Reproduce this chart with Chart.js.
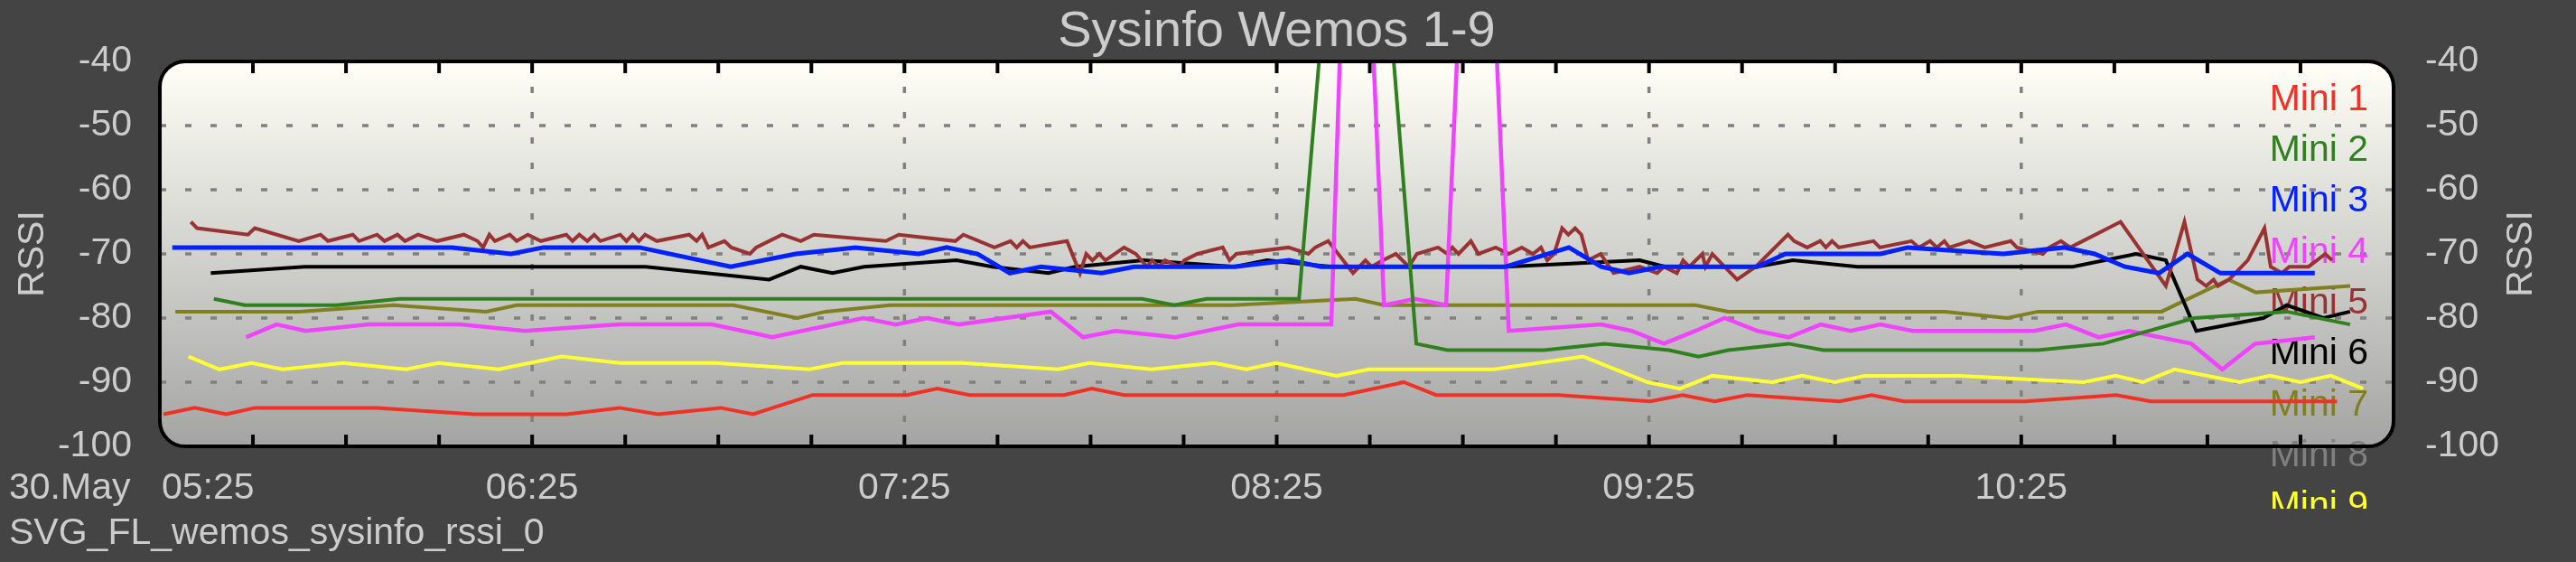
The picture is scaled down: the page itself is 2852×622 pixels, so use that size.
<!DOCTYPE html>
<html>
<head>
<meta charset="utf-8">
<script src="https://cdn.jsdelivr.net/npm/chart.js@4/dist/chart.umd.min.js"></script>
<style>
    html, body { margin: 0; padding: 0; background: #444444; }
    canvas { display: block; }
</style>
</head>
<body>
<canvas id="rssiChart" width="2852" height="622"></canvas>
<script>
// x = minutes after 30.May 05:25, y = RSSI in dBm (31 = not connected)
const mini1 = [[0.6,-95],[5.6,-94],[10.7,-95],[15.3,-94],[35,-94],[50.7,-95],[65.6,-95],[74.1,-94],[80.3,-95],[90.4,-94],[95.6,-95],[105.2,-92],[120.4,-92],[125.3,-91],[130.5,-92],[145.7,-92],[150.2,-91],[155.4,-92],[190.8,-92],[200.5,-90],[205.7,-92],[225.4,-92],[240.2,-93],[245.4,-92],[250.6,-93],[255.8,-92],[270.7,-93],[275.9,-92],[281.1,-93],[300.6,-93],[315.3,-92],[320.9,-93],[350.9,-93]];
const mini2 = [[8.7,-77],[13.7,-78],[28.5,-78],[38.6,-77],[158.3,-77],[163.5,-78],[168.7,-77],[183.6,-77],[193,31],[202.5,-84],[207.5,-85],[223.1,-85],[232.8,-84],[243.2,-85],[248,-86],[252.8,-85],[262.5,-84],[268.1,-85],[302.7,-85],[313.2,-84],[327.9,-80],[342.8,-79],[353,-81]];
const mini3 = [[2,-69],[47.1,-69],[56.6,-70],[61.8,-69],[77.3,-69],[92,-72],[102.5,-70],[112.1,-69],[122.3,-70],[126.8,-69],[131.8,-70],[137,-73],[142,-72],[151.8,-73],[157,-72],[173.2,-72],[182,-71],[187.2,-72],[216.9,-72],[227.1,-69],[232.3,-72],[236.8,-73],[241.8,-72],[257.4,-72],[262,-70],[277.3,-70],[281.7,-69],[297.1,-70],[306.9,-69],[311.8,-70],[316.7,-72],[322.2,-73],[326.8,-70],[332.1,-73],[347.3,-73]];
const mini4 = [[13.9,-83],[18.8,-81],[23.5,-82],[33.7,-81],[48.4,-81],[58.8,-82],[74,-81],[89,-81],[98.7,-83],[113.4,-80],[118.6,-81],[123.7,-80],[128.8,-81],[143.6,-79],[148.8,-83],[154,-82],[163.7,-83],[173.8,-81],[188.8,-81],[192.5,31],[197.3,-78],[202.3,-77],[207.3,-78],[212.3,31],[217.4,-82],[232.3,-81],[237.2,-82],[242.4,-84],[247.5,-82],[252.2,-80],[257.4,-82],[262.5,-83],[267.7,-81],[272.5,-82],[277.3,-81],[282.5,-82],[302.1,-82],[307.2,-81],[312.5,-83],[317.4,-82],[327.4,-84],[332.4,-88],[337.7,-84],[347.3,-83]];
const mini5 = [[5,-65],[6,-66],[14.2,-67],[15.3,-66],[22.4,-68],[25.9,-67],[27.1,-68],[31.1,-67],[32.1,-68],[35,-67],[36.2,-68],[38.3,-67],[39.5,-68],[41.6,-67],[44.7,-68],[49,-67],[51.2,-68],[52.1,-69],[53.1,-67],[54,-68],[56.4,-67],[57.5,-68],[59.3,-67],[61.4,-68],[65.5,-67],[66.5,-68],[67.6,-67],[68.9,-68],[70,-67],[71,-68],[74.2,-67],[75.2,-68],[76.2,-67],[77.2,-68],[78.2,-67],[80.1,-68],[85.3,-67],[86.5,-68],[87.4,-67],[88.4,-69],[91,-68],[92.1,-69],[95.1,-70],[96.1,-69],[100.3,-67],[103.3,-68],[105.4,-67],[117,-68],[119.1,-67],[128.2,-68],[129.5,-67],[134.5,-69],[137.1,-68],[138.1,-69],[139.1,-68],[140.2,-69],[146.2,-68],[148.3,-73],[149.3,-70],[150.3,-71],[151.4,-70],[152.4,-71],[155.4,-69],[157.3,-70],[159.1,-72],[159.9,-71],[161,-72],[162,-71],[164.4,-72],[165.1,-71],[167.2,-70],[171.3,-69],[172.4,-71],[173.5,-70],[181.9,-69],[185.1,-70],[186.2,-69],[188.3,-68],[192.3,-73],[194.3,-71],[195.3,-72],[197.1,-71],[199.2,-70],[201.3,-72],[202.6,-70],[206,-69],[207.5,-70],[208.3,-69],[209.3,-70],[211.3,-68],[212.5,-70],[215.3,-69],[217.4,-70],[219.5,-69],[221.3,-70],[222.6,-69],[223.6,-71],[224.7,-70],[226,-66],[227,-67],[228.1,-66],[229.1,-67],[230.2,-71],[232.2,-70],[234.3,-73],[238.5,-72],[241.3,-73],[242.4,-72],[244.5,-73],[245.5,-71],[246.5,-72],[248.6,-70],[249.1,-72],[250.2,-70],[254.2,-74],[257.2,-72],[262.4,-67],[263.4,-68],[265.5,-69],[267.6,-68],[268.5,-69],[269.5,-68],[270.6,-69],[276.2,-68],[277.2,-69],[282.3,-68],[283.5,-69],[285.3,-68],[286.4,-69],[287.6,-68],[288.4,-69],[291.6,-68],[294.1,-69],[298.3,-68],[299.3,-69],[303.5,-70],[304.5,-69],[306.4,-68],[307.9,-69],[316,-65],[323.3,-75],[326.3,-65],[328.4,-74],[329.8,-75],[331,-74],[331.7,-75],[333.5,-74],[336.5,-71],[339.2,-66],[340.2,-72],[342,-73],[343.2,-72],[346.3,-72],[349,-70],[350.1,-71]];
const mini6 = [[8.2,-73],[23.3,-72],[78.3,-72],[98.2,-74],[103.3,-72],[108.4,-73],[113.5,-72],[128.4,-71],[134.2,-72],[143.2,-73],[147.5,-72],[158.6,-71],[173.2,-72],[178.4,-71],[188.8,-72],[216.9,-72],[238.5,-71],[242.6,-72],[257.4,-72],[263.2,-71],[273.6,-72],[308.3,-72],[318.5,-70],[323.3,-71],[328.2,-82],[339,-80],[342.8,-78],[348.7,-80],[353,-79]];
const mini7 = [[2.5,-79],[22.4,-79],[37.6,-78],[52.6,-79],[57.5,-78],[92.4,-78],[102.7,-80],[107.3,-79],[117.7,-78],[172.9,-78],[192.7,-77],[197.3,-78],[247.5,-78],[252.8,-79],[287.7,-79],[297.7,-80],[302.7,-79],[322.6,-79],[333.4,-74],[337.8,-76],[353,-75]];
const mini8 = [];
const mini9 = [[4.6,-86],[9.6,-88],[14.8,-87],[19.8,-88],[29.5,-87],[39.7,-88],[44.9,-87],[54.6,-88],[64.8,-86],[74.1,-87],[89.6,-87],[104.7,-88],[110,-87],[129.4,-87],[144.8,-88],[149.8,-87],[159.8,-88],[169.9,-87],[175.1,-88],[179.9,-87],[189.6,-89],[194.9,-88],[215,-88],[229.4,-86],[239.8,-90],[245,-91],[250.2,-89],[259.9,-90],[264.7,-89],[269.9,-90],[274.8,-89],[290.1,-89],[310.1,-90],[315.2,-89],[319.6,-90],[324.7,-88],[335.2,-90],[340.1,-89],[345,-90],[349.9,-89],[355.1,-91]];

const seriesNames = ['Mini 1', 'Mini 2', 'Mini 3', 'Mini 4', 'Mini 5', 'Mini 6', 'Mini 7', 'Mini 8', 'Mini 9'];
const seriesData = [mini1, mini2, mini3, mini4, mini5, mini6, mini7, mini8, mini9];
const seriesColors = ['#EE3326', '#308020', '#0022FF', '#EE44FF', '#993333', '#000000', '#808022', '#808080', '#FFFF33'];
const seriesWidths = [4, 4, 5, 4.5, 4, 4, 4, 4, 4];

const timeTicks = [0, 60, 120, 180, 240, 300];
const timeLabels = ['05:25', '06:25', '07:25', '08:25', '09:25', '10:25'];
const rssiTicks = [-40, -50, -60, -70, -80, -90, -100];

const FONT = '"Liberation Sans", Arial, sans-serif';
const TEXT = '#CCCCCC';

const fhemFrame = {
    id: 'fhemFrame',
    beforeDraw(chart) {
        const { ctx, chartArea: a } = chart;
        const x = chart.scales.x, y = chart.scales.y;
        ctx.save();
        ctx.fillStyle = '#444444';
        ctx.fillRect(0, 0, chart.width, chart.height);

        const grad = ctx.createLinearGradient(0, a.top, 0, a.bottom);
        grad.addColorStop(0, '#FFFFF7');
        grad.addColorStop(1, '#A4A4A4');
        ctx.beginPath();
        ctx.roundRect(a.left, a.top, a.right - a.left, a.bottom - a.top, 28);
        ctx.fillStyle = grad;
        ctx.fill();

        // dashed grid
        ctx.strokeStyle = '#808080';
        ctx.lineWidth = 3.5;
        ctx.setLineDash([7, 21]);
        rssiTicks.slice(1, -1).forEach(v => {
            const py = y.getPixelForValue(v);
            ctx.beginPath();
            ctx.moveTo(a.left, py);
            ctx.lineTo(a.right, py);
            ctx.stroke();
        });
        timeTicks.slice(1).forEach(t => {
            const px = x.getPixelForValue(t);
            ctx.beginPath();
            ctx.moveTo(px, a.top);
            ctx.lineTo(px, a.bottom);
            ctx.stroke();
        });
        ctx.restore();
    },
    beforeDatasetsDraw(chart) {
        // legend text sits under the lines
        const { ctx } = chart;
        ctx.save();
        ctx.beginPath();
        ctx.rect(0, 0, chart.width, 563);
        ctx.clip();
        ctx.font = '41px ' + FONT;
        ctx.textAlign = 'right';
        ctx.textBaseline = 'alphabetic';
        seriesNames.forEach((name, i) => {
            ctx.fillStyle = seriesColors[i];
            ctx.fillText(name, 2622, 121.7 + i * 56.3);
        });
        ctx.restore();
    },
    afterDatasetsDraw(chart) {
        const { ctx, chartArea: a } = chart;
        const x = chart.scales.x;
        ctx.save();
        ctx.strokeStyle = '#000000';
        ctx.lineWidth = 4;
        for (let m = 15; m < 360; m += 15) {
            const px = x.getPixelForValue(m);
            ctx.beginPath();
            ctx.moveTo(px, a.top);
            ctx.lineTo(px, a.top + 13);
            ctx.moveTo(px, a.bottom - 13);
            ctx.lineTo(px, a.bottom);
            ctx.stroke();
        }
        ctx.beginPath();
        ctx.roundRect(a.left, a.top, a.right - a.left, a.bottom - a.top, 28);
        ctx.stroke();
        ctx.restore();
    },
    afterDraw(chart) {
        const { ctx, chartArea: a } = chart;
        const x = chart.scales.x, y = chart.scales.y;
        ctx.save();
        ctx.fillStyle = TEXT;

        ctx.font = '56px ' + FONT;
        ctx.textAlign = 'center';
        ctx.textBaseline = 'alphabetic';
        ctx.fillText('Sysinfo Wemos 1-9', (a.left + a.right) / 2, 51);

        ctx.font = '41px ' + FONT;
        ctx.textBaseline = 'middle';
        rssiTicks.forEach(v => {
            const py = y.getPixelForValue(v);
            ctx.textAlign = 'right';
            ctx.fillText(String(v), a.left - 31, py);
            ctx.textAlign = 'left';
            ctx.fillText(String(v), a.right + 35, py);
        });

        ctx.textBaseline = 'alphabetic';
        timeTicks.forEach((t, i) => {
            const px = x.getPixelForValue(t);
            ctx.textAlign = i === 0 ? 'left' : 'center';
            ctx.fillText(timeLabels[i], i === 0 ? px + 2 : px, 552);
        });
        ctx.textAlign = 'left';
        ctx.fillText('30.May', 10, 552);
        ctx.fillText('SVG_FL_wemos_sysinfo_rssi_0', 10, 602);

        ctx.textAlign = 'center';
        ctx.textBaseline = 'middle';
        [37, 2792].forEach(cx => {
            ctx.save();
            ctx.translate(cx, (a.top + a.bottom) / 2);
            ctx.rotate(-Math.PI / 2);
            ctx.fillText('RSSI', 0, 0);
            ctx.restore();
        });
        ctx.restore();
    }
};

new Chart(document.getElementById('rssiChart'), {
    type: 'line',
    data: {
        datasets: seriesData.map((points, i) => ({
            label: seriesNames[i],
            data: points.map(([t, v]) => ({ x: t, y: v })),
            borderColor: seriesColors[i],
            backgroundColor: seriesColors[i],
            borderWidth: seriesWidths[i],
            pointRadius: 0,
            tension: 0,
            fill: false
        }))
    },
    options: {
        responsive: false,
        animation: false,
        devicePixelRatio: 1,
        layout: { padding: { left: 177, right: 202, top: 68, bottom: 128 } },
        scales: {
            x: { type: 'linear', min: 0, max: 360, display: false },
            y: { min: -100, max: -40, display: false }
        },
        plugins: {
            legend: { display: false },
            tooltip: { enabled: false }
        }
    },
    plugins: [fhemFrame]
});
</script>
</body>
</html>
